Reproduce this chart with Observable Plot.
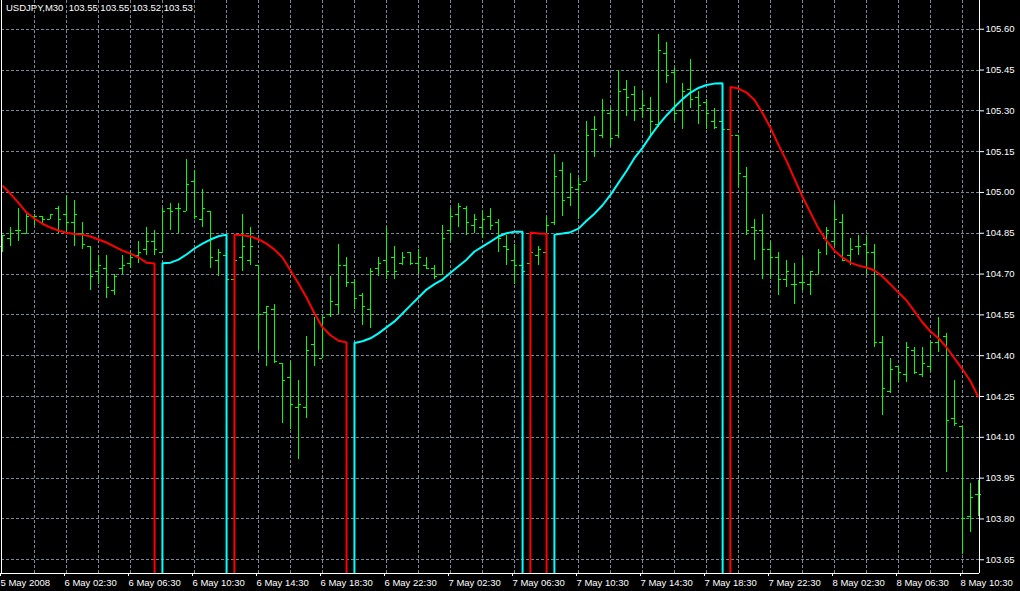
<!DOCTYPE html>
<html>
<head>
<meta charset="utf-8">
<script src="https://cdn.jsdelivr.net/npm/d3@7"></script>
<script src="https://cdn.jsdelivr.net/npm/@observablehq/plot@0.6"></script>
<style>
  html, body { margin: 0; padding: 0; background: #000; overflow: hidden; }
  #chart svg { display: block; }
</style>
</head>
<body>
<div id="chart"></div>
<script>
// ---- data (USDJPY, M30) ----
const chartTitle = "USDJPY,M30\u00a0\u00a0103.55 103.55 103.52 103.53";

const timeLabels = ["5 May 2008", "6 May 02:30", "6 May 06:30", "6 May 10:30", "6 May 14:30",
  "6 May 18:30", "6 May 22:30", "7 May 02:30", "7 May 06:30", "7 May 10:30", "7 May 14:30",
  "7 May 18:30", "7 May 22:30", "8 May 02:30", "8 May 06:30", "8 May 10:30"];
const barsPerLabel = 8;
const barsPerGrid = 4;

const priceTicks = [103.65, 103.80, 103.95, 104.10, 104.25, 104.40, 104.55, 104.70,
  104.85, 105.00, 105.15, 105.30, 105.45, 105.60];

const opens = [104.80,104.83,104.86,104.85,104.91,104.91,104.90,104.94,104.92,104.89,
  104.85,104.80,104.71,104.72,104.64,104.72,104.74,104.77,104.79,104.82,
  104.78,104.94,104.94,104.93,105.04,104.90,104.93,104.75,104.77,104.68,
  104.76,104.75,104.73,104.56,104.57,104.37,104.32,104.21,104.21,104.44,
  104.39,104.55,104.59,104.73,104.67,104.62,104.57,104.72,104.75,104.76,
  104.74,104.78,104.74,104.73,104.72,104.70,104.86,104.92,104.94,104.88,
  104.87,104.91,104.89,104.80,104.75,104.73,104.74,104.77,104.78,104.89,
  105.08,104.98,105.01,105.04,105.23,105.21,105.29,105.21,105.38,105.36,
  105.31,105.31,105.25,105.51,105.44,105.30,105.38,105.35,105.33,105.26,
  105.26,105.23,105.21,105.06,104.87,104.86,104.79,104.76,104.68,104.66,
  104.67,104.66,104.70,104.83,104.82,104.89,104.77,104.80,104.81,104.78,
  104.45,104.27,104.36,104.33,104.42,104.33,104.36,104.45,104.47,104.17,
  104.14,103.81,103.89];
const highs = [104.84,104.87,104.94,104.92,104.92,104.91,104.92,104.95,104.99,104.97,
  104.89,104.80,104.77,104.77,104.70,104.77,104.78,104.82,104.87,104.86,
  104.94,104.96,104.96,105.12,105.08,105.01,104.93,104.79,104.78,104.77,
  104.92,104.87,104.73,104.58,104.59,104.37,104.38,104.31,104.47,104.54,
  104.54,104.69,104.81,104.76,104.68,104.63,104.72,104.76,104.87,104.80,
  104.78,104.78,104.79,104.76,104.73,104.88,104.94,104.96,104.95,104.92,
  104.93,104.94,104.90,104.84,104.81,104.77,104.80,104.80,104.91,105.14,
  105.11,105.07,105.05,105.26,105.28,105.34,105.31,105.45,105.41,105.39,
  105.37,105.35,105.58,105.55,105.46,105.40,105.49,105.37,105.34,105.31,
  105.28,105.26,105.21,105.09,104.90,104.92,104.82,104.78,104.75,104.74,
  104.76,104.71,104.79,104.87,104.96,104.92,104.83,104.84,104.84,104.81,
  104.47,104.39,104.36,104.45,104.43,104.43,104.45,104.54,104.48,104.31,
  104.14,103.93,103.94];
const lows = [104.78,104.80,104.82,104.85,104.88,104.88,104.90,104.85,104.85,104.80,
  104.79,104.64,104.66,104.61,104.62,104.70,104.72,104.74,104.77,104.77,
  104.78,104.86,104.85,104.93,104.90,104.87,104.72,104.69,104.68,104.67,
  104.71,104.73,104.42,104.36,104.37,104.15,104.13,104.02,104.17,104.36,
  104.39,104.54,104.55,104.65,104.57,104.51,104.50,104.69,104.68,104.68,
  104.73,104.73,104.70,104.72,104.68,104.70,104.82,104.87,104.84,104.85,
  104.83,104.86,104.78,104.73,104.66,104.69,104.73,104.73,104.78,104.88,
  104.91,104.95,104.90,105.04,105.13,105.20,105.17,105.20,105.28,105.26,
  105.27,105.21,105.24,105.40,105.26,105.23,105.31,105.25,105.23,105.23,
  105.23,105.19,105.02,104.84,104.75,104.68,104.68,104.62,104.65,104.59,
  104.64,104.62,104.70,104.77,104.80,104.75,104.73,104.77,104.70,104.43,
  104.18,104.26,104.30,104.30,104.33,104.32,104.34,104.41,103.97,104.14,
  103.67,103.75,103.81];
const closes = [104.84,104.85,104.86,104.91,104.91,104.90,104.92,104.90,104.89,104.92,
  104.81,104.69,104.73,104.65,104.69,104.73,104.76,104.78,104.82,104.79,
  104.93,104.93,104.94,105.03,104.91,104.94,104.76,104.78,104.68,104.75,
  104.80,104.80,104.55,104.58,104.38,104.31,104.22,104.22,104.42,104.40,
  104.54,104.60,104.73,104.67,104.61,104.58,104.71,104.74,104.71,104.71,
  104.76,104.74,104.76,104.72,104.69,104.83,104.91,104.95,104.89,104.90,
  104.90,104.88,104.83,104.79,104.73,104.71,104.78,104.79,104.88,105.06,
  104.97,105.02,105.03,105.21,105.23,105.30,105.20,105.37,105.35,105.30,
  105.32,105.26,105.52,105.43,105.29,105.37,105.34,105.32,105.29,105.24,
  105.23,105.21,105.07,104.86,104.86,104.79,104.76,104.68,104.71,104.66,
  104.67,104.71,104.78,104.86,104.90,104.75,104.79,104.80,104.78,104.45,
  104.28,104.35,104.34,104.43,104.34,104.37,104.45,104.46,104.16,104.15,
  103.80,103.88,103.89];

// smoothed indicator value per bar
const maValues = [105.025,104.995,104.962,104.926,104.904,104.885,104.871,104.860,104.852,104.847,
  104.845,104.838,104.827,104.816,104.801,104.786,104.775,104.761,104.742,104.739,
  104.740,104.742,104.753,104.772,104.794,104.812,104.827,104.839,104.845,
  104.845,104.843,104.838,104.828,104.812,104.790,104.761,104.713,104.665,104.614,
  104.555,104.504,104.475,104.455,104.449,
  104.447,104.453,104.464,104.482,104.504,104.526,104.555,104.585,104.614,104.643,
  104.663,104.680,104.705,104.729,104.753,104.783,104.801,104.819,104.838,104.850,
  104.856,104.856,
  104.853,104.849,104.848,
  104.845,104.849,104.854,104.867,104.896,104.922,104.953,104.991,105.035,105.079,
  105.127,105.164,105.208,105.248,105.283,105.314,105.343,105.367,105.384,105.395,
  105.400,105.401,
  105.388,105.382,105.367,105.340,105.292,105.238,105.175,105.116,105.050,104.984,
  104.926,104.867,104.823,104.786,104.761,104.742,104.731,104.724,104.713,104.691,
  104.662,104.632,104.603,104.563,104.522,104.489,104.464,104.431,104.390,104.350,
  104.306,104.247];

// trend segments: [direction, first bar, last bar]
const trendSegments = [["down",0,19],["up",20,28],["down",29,43],["up",44,65],
  ["down",66,68],["up",69,90],["down",91,122]];

// ---- build tables ----
const bars = opens.map((o, i) => ({i, open: o, high: highs[i], low: lows[i], close: closes[i]}));
const dirOf = i => trendSegments.find(s => i >= s[1] && i <= s[2])[0];
// empty buffer value is 0 (as in the terminal), which produces the vertical drops
const ind = maValues.map((v, i) => ({i, down: dirOf(i) === "down" ? v : 0, up: dirOf(i) === "up" ? v : 0}));

const nBars = opens.length;
const xDomain = [-0.125, nBars - 1 + 0.125];
const yDomain = [103.5995, 105.7055];
const gridBars = d3.range(barsPerGrid, nBars - 1, barsPerGrid);
const labelBars = timeLabels.map((_, k) => k * barsPerLabel);

const gridColor = "#778899";
const font = "Liberation Sans, Arial, sans-serif";

const chart = Plot.plot({
  width: 1020,
  height: 591,
  marginLeft: 1,
  marginRight: 41,
  marginTop: 0,
  marginBottom: 18,
  style: {background: "#000", color: "#fff", fontFamily: font, fontSize: "9.5px"},
  x: {type: "linear", domain: xDomain},
  y: {type: "linear", domain: yDomain},
  marks: [
    Plot.ruleX(gridBars, {x: d => d, stroke: gridColor, strokeDasharray: "3,2", shapeRendering: "crispEdges"}),
    Plot.ruleY(priceTicks, {y: d => d, stroke: gridColor, strokeDasharray: "3,2", shapeRendering: "crispEdges"}),
    // OHLC bars
    Plot.ruleX(bars, {x: "i", y1: "low", y2: "high", stroke: "#00ff00", shapeRendering: "crispEdges"}),
    Plot.ruleY(bars, {y: "open", x1: d => d.i - 0.375, x2: "i", stroke: "#00ff00", shapeRendering: "crispEdges"}),
    Plot.ruleY(bars, {y: "close", x1: "i", x2: d => d.i + 0.375, stroke: "#00ff00", shapeRendering: "crispEdges"}),
    // indicator
    Plot.line(ind, {x: "i", y: "down", stroke: "#ff0000", strokeWidth: 2, clip: true, strokeLinejoin: "miter", strokeLinecap: "butt"}),
    Plot.line(ind, {x: "i", y: "up", stroke: "#00ffff", strokeWidth: 2, clip: true, strokeLinejoin: "miter", strokeLinecap: "butt"}),
    // frame lines
    Plot.ruleX([xDomain[0], xDomain[1]], {x: d => d, stroke: "#fff", shapeRendering: "crispEdges"}),
    Plot.ruleY([yDomain[0]], {y: d => d, stroke: "#fff", shapeRendering: "crispEdges"}),
    // axes
    Plot.axisX(labelBars, {
      anchor: "bottom", tickSize: 3, tickPadding: 2.5, textAnchor: "start", dx: -2,
      tickFormat: d => timeLabels[d / barsPerLabel], label: null, stroke: "#fff", fill: "#fff",
      fontSize: 9.5
    }),
    Plot.axisY(priceTicks, {
      anchor: "right", tickSize: 4, tickPadding: 2, tickFormat: d => d.toFixed(2),
      label: null, stroke: "#fff", fill: "#fff", fontSize: 9.5
    }),
    // title
    Plot.text([chartTitle], {frameAnchor: "top-left", dx: 4.5, dy: 4, text: d => d, fill: "#fff",
      textAnchor: "start", lineAnchor: "top", fontSize: 9.5})
  ]
});
document.getElementById("chart").appendChild(chart);
</script>
</body>
</html>
